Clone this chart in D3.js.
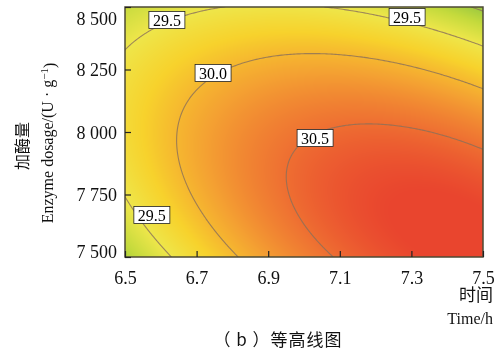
<!DOCTYPE html>
<html>
<head>
<meta charset="utf-8">
<script src="https://cdn.jsdelivr.net/npm/d3@7"></script>
<style>
  body { margin: 0; background: #fff; }
  #wrap { position: relative; width: 495px; height: 353px; }
  #wrap canvas, #wrap svg { position: absolute; left: 0; top: 0; }
</style>
</head>
<body>
<div id="wrap"><canvas id="heat"></canvas><svg id="chart"></svg></div>
<script>
const W = 495, H = 353;

// fitted response model in coded units: A = (t-7)/0.5, B = (E-8000)/500
// order: [b0, bA, bB, bAB, bAA, bBB]  (fitted to points)
const modelCoef = [30.472, 0.352, -0.425, -0.498, -0.442, -0.524];

const contourLevels = [29.0, 29.5, 30.0, 30.5];
const xTicks = [6.5, 6.7, 6.9, 7.1, 7.3, 7.5];
const yTicks = [7500, 7750, 8000, 8250, 8500];

// label anchors (time, dosage, text)
const labelTime = [6.617, 7.288, 6.746, 7.031, 6.575];
const labelDose = [8448, 8460, 8236, 7976, 7668];
const labelText = ["29.5", "29.5", "30.0", "30.5", "29.5"];

const colorStops = [28.9, 29.2, 29.5, 29.8, 30.15, 30.45, 30.75];
const colorRange = ["#90c440", "#c4da3c", "#eee64a", "#f7d22c", "#f4a232", "#ef7632", "#e9452e"];

const margin = { top: 7, right: 12, bottom: 96, left: 125 };
const pw = 483 - margin.left, ph = 257 - margin.top;

const x = d3.scaleLinear().domain([6.5, 7.5]).range([margin.left, margin.left + pw]);
const y = d3.scaleLinear().domain([7500, 8500]).range([margin.top + ph, margin.top]);
const color = d3.scaleLinear().domain(colorStops).range(colorRange).clamp(true);

function model(t, e) {
    const a = (t - 7) / 0.5, b = (e - 8000) / 500;
    const c = modelCoef;
    return c[0] + c[1] * a + c[2] * b + c[3] * a * b + c[4] * a * a + c[5] * b * b;
}

// heat map, one cell per pixel
const canvas = document.getElementById("heat");
canvas.width = W; canvas.height = H;
const ctx = canvas.getContext("2d");
const img = ctx.createImageData(pw, ph);
for (let j = 0; j < ph; j++) {
    for (let i = 0; i < pw; i++) {
        const v = model(x.invert(margin.left + i + 0.5), y.invert(margin.top + j + 0.5));
        const c = d3.rgb(color(v));
        const k = (j * pw + i) * 4;
        img.data[k] = c.r; img.data[k + 1] = c.g; img.data[k + 2] = c.b; img.data[k + 3] = 255;
    }
}
ctx.putImageData(img, margin.left, margin.top);

const svg = d3.select("#chart").attr("width", W).attr("height", H);

// contour lines
const n = 200;
const grid = new Array(n * n);
const gx = d3.scaleLinear().domain([0, n - 1]).range([6.5, 7.5]);
const gy = d3.scaleLinear().domain([0, n - 1]).range([8500, 7500]);
for (let j = 0; j < n; j++)
    for (let i = 0; i < n; i++) grid[j * n + i] = model(gx(i), gy(j));

const contours = d3.contours().size([n, n]).smooth(true).thresholds(contourLevels)(grid);
const proj = d3.geoTransform({
    point: function (px, py) {
        this.stream.point(x(gx(px - 0.5)), y(gy(py - 0.5)));
    }
});
svg.append("clipPath").attr("id", "clip").append("rect")
    .attr("x", margin.left).attr("y", margin.top).attr("width", pw).attr("height", ph);

// the frame drawn on top hides the polygon edges along the border
svg.append("g").attr("clip-path", "url(#clip)")
    .selectAll("path").data(contours).join("path")
    .attr("d", d3.geoPath(proj))
    .attr("fill", "none")
    .attr("stroke", "#8a6f5a")
    .attr("stroke-opacity", 0.8)
    .attr("stroke-width", 1.1);

// contour labels
const lab = svg.append("g").selectAll("g").data(labelText).join("g")
    .attr("transform", (d, i) => `translate(${x(labelTime[i])},${y(labelDose[i])})`);
lab.append("rect")
    .attr("x", -18).attr("y", -8.5).attr("width", 36).attr("height", 17)
    .attr("fill", "#fff").attr("stroke", "#222").attr("stroke-width", 0.8);
lab.append("text")
    .attr("text-anchor", "middle").attr("dy", "0.36em")
    .style("font-family", "'Liberation Serif', serif").style("font-size", "16px")
    .text(d => d);

// frame
svg.append("rect")
    .attr("x", margin.left).attr("y", margin.top).attr("width", pw).attr("height", ph)
    .attr("fill", "none").attr("stroke", "#4d4a35").attr("stroke-width", 1.5);

const fontSerif = "'Liberation Serif', 'Times New Roman', serif";

// x axis
const xAxis = svg.append("g").attr("transform", `translate(0,${margin.top + ph})`)
    .call(d3.axisBottom(x).tickValues(xTicks).tickSizeInner(-6).tickSizeOuter(0).tickFormat(d3.format(".1f")));
xAxis.select(".domain").remove();
xAxis.selectAll("line").attr("stroke", "#222").attr("stroke-width", 1.2);
xAxis.selectAll("text").attr("y", 14).attr("dy", "0.71em")
    .style("font-family", fontSerif).style("font-size", "18px").attr("fill", "#111");

// y axis
const yFmt = d => String(d).replace(/(\d)(\d{3})$/, "$1 $2");
const yAxis = svg.append("g").attr("transform", `translate(${margin.left},0)`)
    .call(d3.axisLeft(y).tickValues(yTicks).tickSizeInner(-6).tickSizeOuter(0).tickFormat(yFmt));
yAxis.select(".domain").remove();
yAxis.selectAll("line").attr("stroke", "#222").attr("stroke-width", 1.2);
yAxis.selectAll("text").attr("x", -8)
    .attr("dy", d => d === 8500 ? "0.95em" : d === 7500 ? "0.05em" : "0.35em")
    .style("font-family", fontSerif).style("font-size", "18px").attr("fill", "#111");

// axis titles
svg.append("text").attr("x", 493).attr("y", 301).attr("text-anchor", "end")
    .style("font-family", "'Noto Sans CJK SC', sans-serif").style("font-size", "17px").attr("fill", "#111")
    .text("时间");
svg.append("text").attr("x", 493).attr("y", 324).attr("text-anchor", "end")
    .style("font-family", fontSerif).style("font-size", "16px").attr("fill", "#111")
    .text("Time/h");

svg.append("text").attr("transform", "translate(28,146) rotate(-90)").attr("text-anchor", "middle")
    .style("font-family", "'Noto Sans CJK SC', sans-serif").style("font-size", "16px").attr("fill", "#111")
    .text("加酶量");
const yt = svg.append("text").attr("transform", "translate(53,143) rotate(-90)").attr("text-anchor", "middle")
    .style("font-family", fontSerif).style("font-size", "16px").attr("fill", "#111");
yt.append("tspan").text("Enzyme dosage/(U · g");
yt.append("tspan").attr("dy", "-0.45em").style("font-size", "11px").text("−1");
yt.append("tspan").attr("dy", "0.45em").text(")");

// caption
svg.append("text").attr("x", 278).attr("y", 346).attr("text-anchor", "middle")
    .style("font-family", "'Noto Sans CJK SC', sans-serif").style("font-size", "17px")
    .style("letter-spacing", "1px").attr("fill", "#111")
    .text("（ b ）等高线图");
</script>
</body>
</html>
